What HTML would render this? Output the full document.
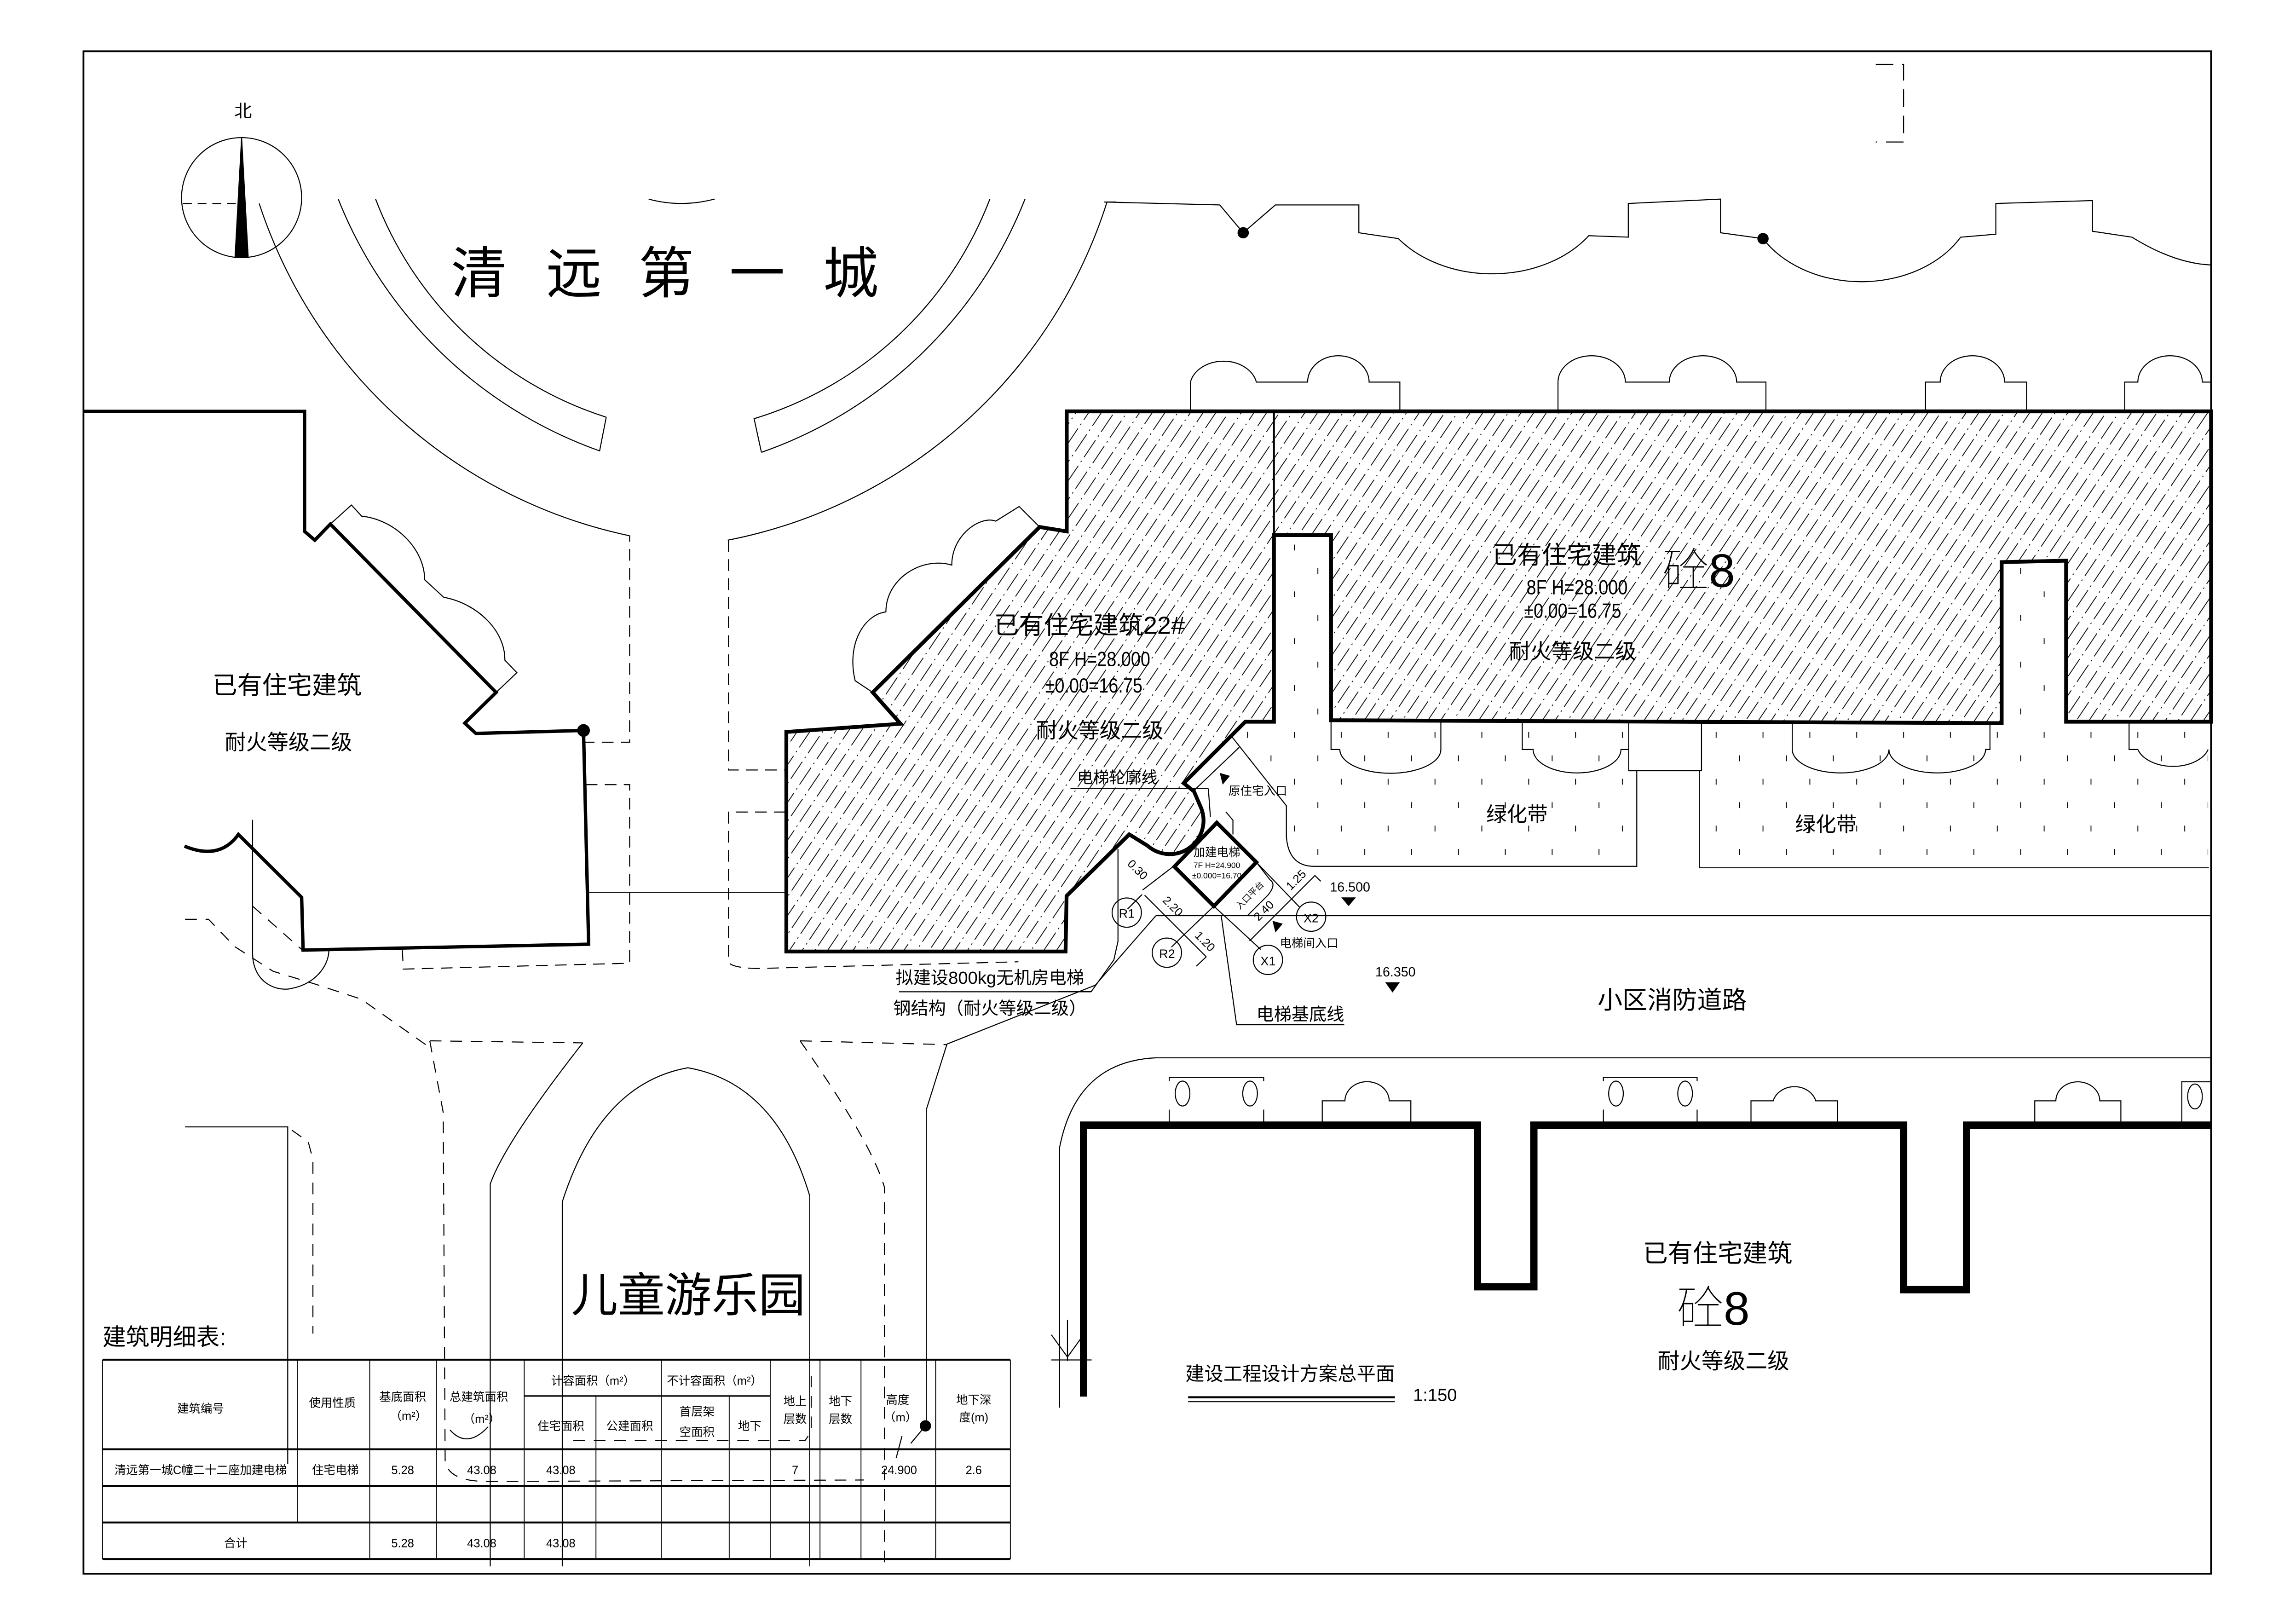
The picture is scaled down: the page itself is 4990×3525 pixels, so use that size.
<!DOCTYPE html>
<html><head><meta charset="utf-8">
<style>
html,body{margin:0;padding:0;background:#fff;}
svg{display:block;}
text{font-family:"Liberation Sans","Noto Sans CJK SC",sans-serif;fill:#000;}
</style></head>
<body>
<svg width="4990" height="3525" viewBox="0 0 1568 1108" preserveAspectRatio="none" xmlns="http://www.w3.org/2000/svg">
<defs>
<pattern id="hatch" patternUnits="userSpaceOnUse" width="7.2" height="21" patternTransform="rotate(34)">
<line x1="3.6" y1="-1" x2="3.6" y2="22" stroke="#000" stroke-width="0.55" stroke-dasharray="14 3 1 3"/>
</pattern>
<pattern id="ticks" patternUnits="userSpaceOnUse" width="32" height="32">
<line x1="4" y1="4" x2="4" y2="8" stroke="#000" stroke-width="0.6"/>
<line x1="20" y1="20" x2="20" y2="24" stroke="#000" stroke-width="0.6"/>
</pattern>
</defs>
<rect width="1568" height="1108" fill="#fff"/>
<g fill="none" stroke="#000" stroke-width="0.7">
<rect x="57" y="35" width="1453" height="1040" stroke-width="1.2"/>

<circle cx="165" cy="135" r="41"/>
<path d="M165,94 L160.5,176 L169.5,176 Z" fill="#000"/>
<path d="M125,139 H165" stroke-dasharray="6 4"/>

<path d="M177,139 A340,340 0 0 0 430,366"/>
<path d="M231,136 A300,300 0 0 0 409.5,308 L414,285"/>
<path d="M256.5,136 A250,250 0 0 0 414,285"/>
<path d="M443,136 Q465,142 488,136"/>
<path d="M676,136 A250,250 0 0 1 515,286 L520,309"/>
<path d="M700,136 A300,300 0 0 1 520,309"/>
<path d="M762,138 H756 A340,340 0 0 1 497,369"/>

<path d="M754,138 L833,140 L849,159 L871,140 H928 V159 L955,163 A80,60 0 0 0 1085,161 L1112,162 V139 L1175,136 V159 L1204,163 A78,60 0 0 0 1339,162 L1363,160 V139 L1429,137 V158 L1456,162 Q1485,180 1510,181"/>
<circle cx="849" cy="159" r="3.5" fill="#000"/>
<circle cx="1204" cy="163" r="3.5" fill="#000"/>
<path d="M1281,44 H1300 V97 H1281" stroke-dasharray="12 6"/>

<path d="M57,281 H208 V363 L215,369 L225.6,358 L338.8,473 L317.4,494 L325,501 L398.5,499 L402,645 L207,649 L206,613 L162.8,570 Q150,588 126,578" stroke-width="2.3"/>
<circle cx="398.5" cy="499" r="4" fill="#000"/>
<path d="M225.6,358 L240,345 L247,352.6 C270,355 290,375 290,396 L303,408 C325,412 345,430 344.8,451 L353,459.5 L338.8,473"/>
<path d="M398,507 H430 V366" stroke-dasharray="8 5"/>
<path d="M400,536 H430 V658 L275.4,662 L274.7,647" stroke-dasharray="8 5"/>
<path d="M497.5,369 V526 H536.6" stroke-dasharray="8 5"/>
<path d="M536.6,554.7 H497.5 V657 Q499,661 516.7,661.6 L695.5,657" stroke-dasharray="8 5"/>
<line x1="400" y1="609.5" x2="536.6" y2="609.5"/>

<path d="M172.5,560 V650 C172,672 190,678 200,675 C215,672 224.6,660 224.6,649"/>
<path d="M126.4,628 H142.4 L160.4,646.7 L186.5,663.5 L214.5,672 L246.6,682.5 L292.7,715" stroke-dasharray="8 6"/>
<path d="M172.5,619 L206.5,649" stroke-dasharray="8 6"/>
<path d="M293.5,711 L302.7,760 L304,998 Q306,1012 333,1012 L590,1011" stroke-dasharray="8 6"/>
<path d="M293.5,711 L398,712.4" stroke-dasharray="8 6"/>
<path d="M398,712.4 Q345,780 334.8,808.8 V1070"/>
<path d="M384,1070 V821 Q410,740 469.8,729.4 Q530,740 553,817 V1070"/>
<path d="M546.4,711 Q595,780 604,811 V1070" stroke-dasharray="8 6"/>
<path d="M546.4,711 L646.6,713.6" stroke-dasharray="8 6"/>
<path d="M646.6,713.6 L632.6,758 V974"/>
<path d="M126.4,769.8 H196.5 V1000"/>
<path d="M199.3,772 L210.5,780 L213.7,792 V911" stroke-dasharray="8 6"/>
<path d="M391.5,984 L549.8,984 L554,978 V940" stroke-dasharray="8 6"/>
<path d="M307.3,976.8 Q319,990 333.4,974.6"/>
<circle cx="632" cy="974" r="3.5" fill="#000"/>
<path d="M632,974 L622,986 M616,981 L612,996"/>

<path d="M537,500 L615,494.4 L596,473 L710,360 L728.5,363 L728.5,281 H1510 V493 H1411 V383 L1367,384 V494 L909,492 V365.5 H870 V493 H850.5 L808.4,535 L815.4,540.6 L819.6,550.4 A23,23 0 0 1 783.8,577.8 L771.2,570 L728.4,612 L727.7,650 L537,650 Z" fill="url(#hatch)" stroke-width="2.6"/>
<line x1="870" y1="281" x2="870" y2="365.5" stroke-width="1.3"/>
<path d="M596,473 L584,465 C578,440 590,420 605,418 C605,395 630,380 650,386 C650,365 670,352 680,356 L696,346 L710,360"/>

<path d="M813,281 V261 A23,18 0 0 1 858,261 H893 A21,18 0 0 1 935,261 H956 V281"/>
<path d="M1064,281 V261 A23,18 0 0 1 1110,261 H1140 A23,18 0 0 1 1186,261 H1206 V281"/>
<path d="M1315,281 V261 H1325 A22,18 0 0 1 1369,261 H1384 V281"/>
<path d="M1451,281 V261 H1460 A22,18 0 0 1 1504,261 H1510"/>

<path d="M870,365.5 H909 V493 H870 Z" fill="url(#ticks)" stroke="none"/>
<path d="M1367,384 H1411 V493 H1367 Z" fill="url(#ticks)" stroke="none"/>
<path d="M850.5,493 H1112 V591.5 H910.5 Q880,590 880,582 V546 L842.5,507 Z" fill="url(#ticks)" stroke="none"/>
<path d="M1162,493 H1508 V592.8 H1160.5 Z" fill="url(#ticks)" stroke="none"/>
<path d="M909,493 V512 H915 A34,16 0 0 0 984,512 V493"/>
<path d="M1039.6,493 V512 H1047 A30,16 0 0 0 1107,512 H1112"/>
<rect x="1112.3" y="492.5" width="49.7" height="34"/>
<path d="M1224,493 V512 A33,16 0 0 0 1290,512 A33,16 0 0 0 1356,512 H1359 V493"/>
<path d="M1454,493 V512 H1460 A25,16 0 0 0 1508,512"/>
<path d="M841.4,503.4 L878.5,550.4 V571.5 Q880,591.8 897.5,591.8 H1117.8 V526.4"/>
<path d="M1160.5,526.4 V592.8 H1508.5"/>

<path d="M789.4,625.5 H1510"/>
<path d="M789.4,625.5 L748,673 L646.5,713.3"/>
<path d="M1510,722.6 H789.5 Q735,725 723.6,784 V961.6"/>

<path d="M740,954 V768.6 H1009 V879 H1047.5 V768.6 H1300 V881 H1343 V768.6 H1510" stroke-width="5"/>
<g>
<ellipse cx="807.6" cy="747" rx="5" ry="8.5"/><ellipse cx="853.7" cy="747" rx="5" ry="8.5"/>
<path d="M798.5,738.5 V736 H863 V738.5 M798.5,758 V768 M863,758 V768"/>
<path d="M903,768 V752 H918.5 A15,13 0 0 1 948.7,752 H963.5 V768"/>
<ellipse cx="1103.6" cy="747" rx="5" ry="8.5"/><ellipse cx="1150.8" cy="747" rx="5" ry="8.5"/>
<path d="M1095,738.5 V736 H1159 V738.5 M1095,758 V768 M1159,758 V768"/>
<path d="M1195.8,768 V752 H1211 A15,13 0 0 1 1240,752 H1255 V768"/>
<path d="M1389.6,768 V752 H1404 A15,13 0 0 1 1434,752 H1448.4 V768"/>
<ellipse cx="1499" cy="749" rx="5" ry="8.5"/>
<path d="M1490,768 V739 H1510"/>
</g>
<path d="M729,901.6 V929.6 M718,911.8 L729,927 L740,911.8 M718,929 H745.5"/>

<path d="M831,562 L858,589 L829,619 L802,592 Z" stroke-width="2.6"/>
<path d="M815.4,540 L846.3,510.5 M825.2,538.6 L826.6,558 M837.2,554.6 L842,560.3 V570"/>
<path d="M763.5,580 V643 L760.7,655.7 L745.2,677.4 H722.8"/>
<path d="M780.3,608 L801.4,591.8"/>
<path d="M781.7,611.5 L823.8,653.6 M808.7,638.4 L829,619 M823.8,653.6 L817,660"/>
<path d="M882.5,613.6 L853.3,642.8 M882.5,613.6 L898,598.1 L902,602 M858,589 L887.7,619.9 M829,619 L861,648.6"/>
<path d="M851.9,625.5 L865.9,611.5 Q872,604 867.3,601 L858,589"/>
<path d="M780,611 L770,621 M808.7,638.4 L800,647"/>
<path d="M834,625.6 L844.5,700 H918"/>
<circle cx="769.5" cy="623.4" r="10"/>
<circle cx="796.9" cy="650.8" r="10"/>
<circle cx="865.9" cy="655.7" r="10"/>
<circle cx="895.4" cy="626.2" r="10"/>
<path d="M731,538.6 H825"/>
<path d="M614,677.5 H745"/>
<path d="M811.4,954.5 H952.6" stroke-width="1.4"/>
<path d="M811.4,957.5 H952.6"/>

<g stroke-width="1.3">
<line x1="70" y1="928.8" x2="690" y2="928.8"/>
<line x1="70" y1="990" x2="690" y2="990"/>
<line x1="70" y1="1015" x2="690" y2="1015"/>
<line x1="70" y1="1040" x2="690" y2="1040"/>
<line x1="70" y1="1065" x2="690" y2="1065"/>
</g>
<g stroke-width="0.6">
<line x1="70" y1="928.8" x2="70" y2="1065"/>
<line x1="690" y1="928.8" x2="690" y2="1065"/>
<line x1="203" y1="928.8" x2="203" y2="1040"/>
<line x1="252.5" y1="928.8" x2="252.5" y2="1065"/>
<line x1="298" y1="928.8" x2="298" y2="1065"/>
<line x1="358" y1="928.8" x2="358" y2="1065"/>
<line x1="407" y1="953.6" x2="407" y2="1065"/>
<line x1="451.6" y1="928.8" x2="451.6" y2="1065"/>
<line x1="498" y1="953.6" x2="498" y2="1065"/>
<line x1="526" y1="928.8" x2="526" y2="1065"/>
<line x1="560" y1="928.8" x2="560" y2="1065"/>
<line x1="588" y1="928.8" x2="588" y2="1065"/>
<line x1="639" y1="928.8" x2="639" y2="1065"/>
<line x1="358" y1="953.6" x2="526" y2="953.6" stroke-width="1"/>
</g>
</g>

<g fill="#000" stroke="none">
<path d="M916,613 L926,613 L921,619 Z"/>
<path d="M946,671 L956,671 L951,678 Z"/>
<path d="M833,528 L840,530 L835,536 Z"/>
<path d="M869,629 L876,631 L871,637 Z"/>
</g>

<g text-anchor="middle">
<text x="166" y="80" font-size="12">北</text>
<g font-size="38">
<text x="327" y="200">清</text><text x="392" y="200">远</text><text x="455" y="200">第</text><text x="517" y="200">一</text><text x="581" y="200">城</text>
</g>
<text x="196" y="474" font-size="17">已有住宅建筑</text>
<text x="197" y="512" font-size="14.5">耐火等级二级</text>
<text x="744" y="433" font-size="17">已有住宅建筑22#</text>
<text x="751" y="455" font-size="14" transform="translate(751,0) scale(0.85,1) translate(-751,0)">8F H=28.000</text>
<text x="747" y="473" font-size="14" transform="translate(747,0) scale(0.85,1) translate(-747,0)">±0.00=16.75</text>
<text x="751" y="504" font-size="14.5">耐火等级二级</text>
<text x="1070" y="385" font-size="17">已有住宅建筑</text>
<text x="1077" y="406" font-size="14" transform="translate(1077,0) scale(0.85,1) translate(-1077,0)">8F H=28.000</text>
<text x="1074" y="422" font-size="14" transform="translate(1074,0) scale(0.85,1) translate(-1074,0)">±0.00=16.75</text>
<text x="1074" y="450" font-size="14.5">耐火等级二级</text>
<text x="1160" y="401" font-size="32" font-weight="100">砼8</text>
<text x="1036" y="561" font-size="14">绿化带</text>
<text x="1247" y="568" font-size="14">绿化带</text>
<text x="1142" y="689" font-size="17">小区消防道路</text>
<text x="763" y="535" font-size="11">电梯轮廓线</text>
<text x="859" y="543" font-size="8">原住宅入口</text>
<text x="831" y="585" font-size="8">加建电梯</text>
<text x="831" y="593" font-size="5.5">7F H=24.900</text>
<text x="831" y="600" font-size="5.5">±0.000=16.70</text>
<text x="894" y="647" font-size="8">电梯间入口</text>
<text x="922" y="609" font-size="9">16.500</text>
<text x="953" y="667" font-size="9">16.350</text>
<text x="888" y="697" font-size="12">电梯基底线</text>
<text x="769.5" y="627" font-size="8.5">R1</text>
<text x="797" y="654.5" font-size="8.5">R2</text>
<text x="866" y="659.5" font-size="8.5">X1</text>
<text x="895.4" y="630" font-size="8.5">X2</text>
<text transform="translate(775,596) rotate(45)" font-size="8">0.30</text>
<text transform="translate(799,621) rotate(45)" font-size="8">2.20</text>
<text transform="translate(821,645) rotate(45)" font-size="8">1.20</text>
<text transform="translate(887,603) rotate(-45)" font-size="8">1.25</text>
<text transform="translate(865,624) rotate(-45)" font-size="8">2.40</text>
<text transform="translate(855,613) rotate(-45)" font-size="6">入口平台</text>
<text x="676" y="672" font-size="12">拟建设800kg无机房电梯</text>
<text x="676" y="693" font-size="12">钢结构（耐火等级二级）</text>
<text x="470" y="896" font-size="32">儿童游乐园</text>
<text x="1173" y="862" font-size="17">已有住宅建筑</text>
<text x="1170" y="905" font-size="32" font-weight="100">砼8</text>
<text x="1177" y="935" font-size="15">耐火等级二级</text>
<text x="881" y="943" font-size="13">建设工程设计方案总平面</text>
<text x="980" y="957" font-size="12">1:150</text>
</g>
<text x="70" y="919" font-size="16">建筑明细表:</text>
<g text-anchor="middle" font-size="8">
<text x="137" y="965">建筑编号</text>
<text x="227" y="961">使用性质</text>
<text x="275" y="957">基底面积</text><text x="279" y="970">（m²）</text>
<text x="327" y="957">总建筑面积</text><text x="329" y="972">（m²）</text>
<text x="405" y="946">计容面积（m²）</text>
<text x="488" y="946">不计容面积（m²）</text>
<text x="383" y="977">住宅面积</text>
<text x="430" y="977">公建面积</text>
<text x="476" y="967">首层架</text><text x="476" y="981">空面积</text>
<text x="512" y="977">地下</text>
<text x="543" y="960">地上</text><text x="543" y="972">层数</text>
<text x="574" y="960">地下</text><text x="574" y="972">层数</text>
<text x="613" y="959">高度</text><text x="615" y="971">（m）</text>
<text x="665" y="959">地下深</text><text x="665" y="971">度(m)</text>
<text x="137" y="1007">清远第一城C幢二十二座加建电梯</text>
<text x="229" y="1007">住宅电梯</text>
<text x="275" y="1007">5.28</text>
<text x="329" y="1007">43.08</text>
<text x="383" y="1007">43.08</text>
<text x="543" y="1007">7</text>
<text x="614" y="1007">24.900</text>
<text x="665" y="1007">2.6</text>
<text x="161" y="1057">合计</text>
<text x="275" y="1057">5.28</text>
<text x="329" y="1057">43.08</text>
<text x="383" y="1057">43.08</text>
</g>
</svg>
</body></html>
